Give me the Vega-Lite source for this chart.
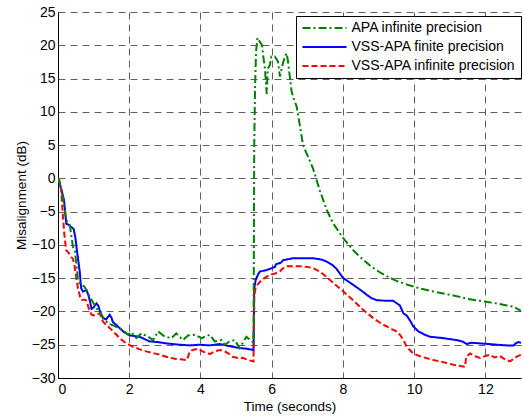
{
  "$schema": "https://vega.github.io/schema/vega-lite/v6.json",
  "width": 463,
  "height": 366,
  "autosize": {"type": "none"},
  "padding": {"left": 58, "top": 12, "right": 2, "bottom": 39},
  "background": "white",
  "config": {
    "view": {"stroke": null},
    "font": "Liberation Sans",
    "axis": {
      "domainColor": "#000",
      "domainWidth": 1,
      "ticks": false,
      "labelColor": "#000",
      "titleColor": "#000",
      "labelFontSize": 14,
      "titleFontSize": 13.5,
      "titleFontWeight": "normal",
      "gridColor": "#444",
      "gridDash": [7, 5],
      "gridOpacity": 0.85,
      "gridWidth": 1
    },
    "legend": {
      "orient": "none",
      "legendX": 238,
      "legendY": 4,
      "strokeColor": "#000",
      "fillColor": "#fff",
      "padding": 5,
      "labelFontSize": 14,
      "labelColor": "#000",
      "labelLimit": 300,
      "symbolType": "M-4,0H4",
      "symbolSize": 121,
      "symbolStrokeWidth": 2,
      "symbolOffset": 16.5,
      "labelOffset": 20,
      "rowPadding": 5
    }
  },
  "data": {"values": [
    {"s":"VSS-APA finite precision","t":0,"v":0},
    {"s":"VSS-APA finite precision","t":0.05,"v":-0.8},
    {"s":"VSS-APA finite precision","t":0.10,"v":-1.8},
    {"s":"VSS-APA finite precision","t":0.17,"v":-3.3},
    {"s":"VSS-APA finite precision","t":0.21,"v":-5.5},
    {"s":"VSS-APA finite precision","t":0.23,"v":-6.8},
    {"s":"VSS-APA finite precision","t":0.30,"v":-7.0},
    {"s":"VSS-APA finite precision","t":0.44,"v":-7.6},
    {"s":"VSS-APA finite precision","t":0.49,"v":-9.0},
    {"s":"VSS-APA finite precision","t":0.53,"v":-10.8},
    {"s":"VSS-APA finite precision","t":0.61,"v":-14.0},
    {"s":"VSS-APA finite precision","t":0.65,"v":-16.5},
    {"s":"VSS-APA finite precision","t":0.70,"v":-17.0},
    {"s":"VSS-APA finite precision","t":0.80,"v":-16.8},
    {"s":"VSS-APA finite precision","t":0.85,"v":-17.5},
    {"s":"VSS-APA finite precision","t":0.89,"v":-18.3},
    {"s":"VSS-APA finite precision","t":0.94,"v":-19.6},
    {"s":"VSS-APA finite precision","t":1.00,"v":-19.4},
    {"s":"VSS-APA finite precision","t":1.08,"v":-18.8},
    {"s":"VSS-APA finite precision","t":1.13,"v":-19.1},
    {"s":"VSS-APA finite precision","t":1.17,"v":-19.8},
    {"s":"VSS-APA finite precision","t":1.26,"v":-21.0},
    {"s":"VSS-APA finite precision","t":1.35,"v":-21.2},
    {"s":"VSS-APA finite precision","t":1.45,"v":-20.5},
    {"s":"VSS-APA finite precision","t":1.50,"v":-20.9},
    {"s":"VSS-APA finite precision","t":1.54,"v":-21.6},
    {"s":"VSS-APA finite precision","t":1.63,"v":-22.0},
    {"s":"VSS-APA finite precision","t":1.73,"v":-22.5},
    {"s":"VSS-APA finite precision","t":1.85,"v":-23.1},
    {"s":"VSS-APA finite precision","t":2.01,"v":-23.6},
    {"s":"VSS-APA finite precision","t":2.15,"v":-23.7},
    {"s":"VSS-APA finite precision","t":2.29,"v":-23.8},
    {"s":"VSS-APA finite precision","t":2.45,"v":-24.2},
    {"s":"VSS-APA finite precision","t":2.57,"v":-24.5},
    {"s":"VSS-APA finite precision","t":2.80,"v":-24.6},
    {"s":"VSS-APA finite precision","t":3.04,"v":-24.8},
    {"s":"VSS-APA finite precision","t":3.42,"v":-25.0},
    {"s":"VSS-APA finite precision","t":3.70,"v":-25.1},
    {"s":"VSS-APA finite precision","t":3.98,"v":-25.0},
    {"s":"VSS-APA finite precision","t":4.26,"v":-25.1},
    {"s":"VSS-APA finite precision","t":4.54,"v":-24.9},
    {"s":"VSS-APA finite precision","t":4.80,"v":-25.2},
    {"s":"VSS-APA finite precision","t":5.10,"v":-25.5},
    {"s":"VSS-APA finite precision","t":5.30,"v":-25.6},
    {"s":"VSS-APA finite precision","t":5.49,"v":-25.8},
    {"s":"VSS-APA finite precision","t":5.51,"v":-16.5},
    {"s":"VSS-APA finite precision","t":5.55,"v":-15.3},
    {"s":"VSS-APA finite precision","t":5.62,"v":-14.4},
    {"s":"VSS-APA finite precision","t":5.67,"v":-14.0},
    {"s":"VSS-APA finite precision","t":5.75,"v":-13.9},
    {"s":"VSS-APA finite precision","t":5.85,"v":-13.8},
    {"s":"VSS-APA finite precision","t":5.95,"v":-13.6},
    {"s":"VSS-APA finite precision","t":6.09,"v":-13.3},
    {"s":"VSS-APA finite precision","t":6.12,"v":-12.9},
    {"s":"VSS-APA finite precision","t":6.18,"v":-12.8},
    {"s":"VSS-APA finite precision","t":6.25,"v":-12.7},
    {"s":"VSS-APA finite precision","t":6.32,"v":-12.3},
    {"s":"VSS-APA finite precision","t":6.42,"v":-12.2},
    {"s":"VSS-APA finite precision","t":6.60,"v":-12.0},
    {"s":"VSS-APA finite precision","t":7.16,"v":-12.0},
    {"s":"VSS-APA finite precision","t":7.40,"v":-12.2},
    {"s":"VSS-APA finite precision","t":7.54,"v":-12.5},
    {"s":"VSS-APA finite precision","t":7.70,"v":-13.0},
    {"s":"VSS-APA finite precision","t":7.82,"v":-13.6},
    {"s":"VSS-APA finite precision","t":8.01,"v":-15.0},
    {"s":"VSS-APA finite precision","t":8.15,"v":-15.5},
    {"s":"VSS-APA finite precision","t":8.29,"v":-16.0},
    {"s":"VSS-APA finite precision","t":8.50,"v":-16.8},
    {"s":"VSS-APA finite precision","t":8.67,"v":-17.5},
    {"s":"VSS-APA finite precision","t":8.80,"v":-18.0},
    {"s":"VSS-APA finite precision","t":8.95,"v":-18.3},
    {"s":"VSS-APA finite precision","t":9.20,"v":-18.4},
    {"s":"VSS-APA finite precision","t":9.41,"v":-18.4},
    {"s":"VSS-APA finite precision","t":9.52,"v":-18.8},
    {"s":"VSS-APA finite precision","t":9.60,"v":-19.1},
    {"s":"VSS-APA finite precision","t":9.70,"v":-20.3},
    {"s":"VSS-APA finite precision","t":9.79,"v":-20.6},
    {"s":"VSS-APA finite precision","t":9.90,"v":-21.5},
    {"s":"VSS-APA finite precision","t":9.97,"v":-22.2},
    {"s":"VSS-APA finite precision","t":10.12,"v":-23.0},
    {"s":"VSS-APA finite precision","t":10.30,"v":-23.5},
    {"s":"VSS-APA finite precision","t":10.44,"v":-23.8},
    {"s":"VSS-APA finite precision","t":10.80,"v":-24.0},
    {"s":"VSS-APA finite precision","t":11.19,"v":-24.3},
    {"s":"VSS-APA finite precision","t":11.35,"v":-24.5},
    {"s":"VSS-APA finite precision","t":11.48,"v":-24.9},
    {"s":"VSS-APA finite precision","t":11.60,"v":-24.7},
    {"s":"VSS-APA finite precision","t":11.85,"v":-24.8},
    {"s":"VSS-APA finite precision","t":12.10,"v":-24.9},
    {"s":"VSS-APA finite precision","t":12.32,"v":-25.0},
    {"s":"VSS-APA finite precision","t":12.60,"v":-25.1},
    {"s":"VSS-APA finite precision","t":12.79,"v":-25.1},
    {"s":"VSS-APA finite precision","t":12.85,"v":-24.8},
    {"s":"VSS-APA finite precision","t":12.92,"v":-24.6},
    {"s":"VSS-APA finite precision","t":13.0,"v":-24.7},

    {"s":"VSS-APA infinite precision","t":0,"v":0},
    {"s":"VSS-APA infinite precision","t":0.04,"v":-0.3},
    {"s":"VSS-APA infinite precision","t":0.09,"v":-1.8},
    {"s":"VSS-APA infinite precision","t":0.14,"v":-5.8},
    {"s":"VSS-APA infinite precision","t":0.18,"v":-8.5},
    {"s":"VSS-APA infinite precision","t":0.23,"v":-10.8},
    {"s":"VSS-APA infinite precision","t":0.30,"v":-11.2},
    {"s":"VSS-APA infinite precision","t":0.37,"v":-11.8},
    {"s":"VSS-APA infinite precision","t":0.42,"v":-12.1},
    {"s":"VSS-APA infinite precision","t":0.47,"v":-13.3},
    {"s":"VSS-APA infinite precision","t":0.51,"v":-14.8},
    {"s":"VSS-APA infinite precision","t":0.56,"v":-16.5},
    {"s":"VSS-APA infinite precision","t":0.62,"v":-17.8},
    {"s":"VSS-APA infinite precision","t":0.65,"v":-18.3},
    {"s":"VSS-APA infinite precision","t":0.75,"v":-18.2},
    {"s":"VSS-APA infinite precision","t":0.80,"v":-18.4},
    {"s":"VSS-APA infinite precision","t":0.88,"v":-19.8},
    {"s":"VSS-APA infinite precision","t":0.94,"v":-20.5},
    {"s":"VSS-APA infinite precision","t":1.00,"v":-20.6},
    {"s":"VSS-APA infinite precision","t":1.08,"v":-20.4},
    {"s":"VSS-APA infinite precision","t":1.17,"v":-20.3},
    {"s":"VSS-APA infinite precision","t":1.26,"v":-21.5},
    {"s":"VSS-APA infinite precision","t":1.35,"v":-22.0},
    {"s":"VSS-APA infinite precision","t":1.45,"v":-22.5},
    {"s":"VSS-APA infinite precision","t":1.55,"v":-23.0},
    {"s":"VSS-APA infinite precision","t":1.64,"v":-23.5},
    {"s":"VSS-APA infinite precision","t":1.75,"v":-24.1},
    {"s":"VSS-APA infinite precision","t":1.92,"v":-24.8},
    {"s":"VSS-APA infinite precision","t":2.10,"v":-25.3},
    {"s":"VSS-APA infinite precision","t":2.30,"v":-25.7},
    {"s":"VSS-APA infinite precision","t":2.48,"v":-26.0},
    {"s":"VSS-APA infinite precision","t":2.70,"v":-26.3},
    {"s":"VSS-APA infinite precision","t":2.86,"v":-26.5},
    {"s":"VSS-APA infinite precision","t":3.10,"v":-26.9},
    {"s":"VSS-APA infinite precision","t":3.28,"v":-27.1},
    {"s":"VSS-APA infinite precision","t":3.45,"v":-27.2},
    {"s":"VSS-APA infinite precision","t":3.62,"v":-27.3},
    {"s":"VSS-APA infinite precision","t":3.70,"v":-26.0},
    {"s":"VSS-APA infinite precision","t":3.78,"v":-25.8},
    {"s":"VSS-APA infinite precision","t":3.93,"v":-25.6},
    {"s":"VSS-APA infinite precision","t":4.10,"v":-26.1},
    {"s":"VSS-APA infinite precision","t":4.26,"v":-26.4},
    {"s":"VSS-APA infinite precision","t":4.40,"v":-26.0},
    {"s":"VSS-APA infinite precision","t":4.54,"v":-25.8},
    {"s":"VSS-APA infinite precision","t":4.65,"v":-25.9},
    {"s":"VSS-APA infinite precision","t":4.78,"v":-26.3},
    {"s":"VSS-APA infinite precision","t":4.90,"v":-26.8},
    {"s":"VSS-APA infinite precision","t":5.06,"v":-27.0},
    {"s":"VSS-APA infinite precision","t":5.20,"v":-27.0},
    {"s":"VSS-APA infinite precision","t":5.34,"v":-27.3},
    {"s":"VSS-APA infinite precision","t":5.49,"v":-27.5},
    {"s":"VSS-APA infinite precision","t":5.51,"v":-17.8},
    {"s":"VSS-APA infinite precision","t":5.55,"v":-16.3},
    {"s":"VSS-APA infinite precision","t":5.71,"v":-15.3},
    {"s":"VSS-APA infinite precision","t":5.85,"v":-14.8},
    {"s":"VSS-APA infinite precision","t":5.95,"v":-14.5},
    {"s":"VSS-APA infinite precision","t":6.10,"v":-14.3},
    {"s":"VSS-APA infinite precision","t":6.23,"v":-14.0},
    {"s":"VSS-APA infinite precision","t":6.30,"v":-13.6},
    {"s":"VSS-APA infinite precision","t":6.42,"v":-13.2},
    {"s":"VSS-APA infinite precision","t":6.79,"v":-13.2},
    {"s":"VSS-APA infinite precision","t":7.00,"v":-13.3},
    {"s":"VSS-APA infinite precision","t":7.16,"v":-13.5},
    {"s":"VSS-APA infinite precision","t":7.35,"v":-14.0},
    {"s":"VSS-APA infinite precision","t":7.54,"v":-14.8},
    {"s":"VSS-APA infinite precision","t":7.75,"v":-15.8},
    {"s":"VSS-APA infinite precision","t":8.01,"v":-17.0},
    {"s":"VSS-APA infinite precision","t":8.20,"v":-17.9},
    {"s":"VSS-APA infinite precision","t":8.38,"v":-18.8},
    {"s":"VSS-APA infinite precision","t":8.60,"v":-19.9},
    {"s":"VSS-APA infinite precision","t":8.85,"v":-21.0},
    {"s":"VSS-APA infinite precision","t":9.10,"v":-21.9},
    {"s":"VSS-APA infinite precision","t":9.32,"v":-22.5},
    {"s":"VSS-APA infinite precision","t":9.50,"v":-23.0},
    {"s":"VSS-APA infinite precision","t":9.60,"v":-23.5},
    {"s":"VSS-APA infinite precision","t":9.70,"v":-24.3},
    {"s":"VSS-APA infinite precision","t":9.79,"v":-25.3},
    {"s":"VSS-APA infinite precision","t":9.97,"v":-26.3},
    {"s":"VSS-APA infinite precision","t":10.20,"v":-26.8},
    {"s":"VSS-APA infinite precision","t":10.54,"v":-27.3},
    {"s":"VSS-APA infinite precision","t":10.80,"v":-27.6},
    {"s":"VSS-APA infinite precision","t":11.10,"v":-28.0},
    {"s":"VSS-APA infinite precision","t":11.30,"v":-28.2},
    {"s":"VSS-APA infinite precision","t":11.43,"v":-28.3},
    {"s":"VSS-APA infinite precision","t":11.46,"v":-26.8},
    {"s":"VSS-APA infinite precision","t":11.57,"v":-26.3},
    {"s":"VSS-APA infinite precision","t":11.70,"v":-26.7},
    {"s":"VSS-APA infinite precision","t":11.85,"v":-27.0},
    {"s":"VSS-APA infinite precision","t":12.00,"v":-26.7},
    {"s":"VSS-APA infinite precision","t":12.13,"v":-26.5},
    {"s":"VSS-APA infinite precision","t":12.25,"v":-26.9},
    {"s":"VSS-APA infinite precision","t":12.41,"v":-26.7},
    {"s":"VSS-APA infinite precision","t":12.55,"v":-27.2},
    {"s":"VSS-APA infinite precision","t":12.69,"v":-27.5},
    {"s":"VSS-APA infinite precision","t":12.80,"v":-27.1},
    {"s":"VSS-APA infinite precision","t":12.88,"v":-26.8},
    {"s":"VSS-APA infinite precision","t":13.0,"v":-26.5},

    {"s":"APA infinite precision","t":0,"v":0},
    {"s":"APA infinite precision","t":0.05,"v":-0.8},
    {"s":"APA infinite precision","t":0.10,"v":-1.8},
    {"s":"APA infinite precision","t":0.17,"v":-4.0},
    {"s":"APA infinite precision","t":0.23,"v":-6.3},
    {"s":"APA infinite precision","t":0.33,"v":-7.0},
    {"s":"APA infinite precision","t":0.42,"v":-10.3},
    {"s":"APA infinite precision","t":0.47,"v":-10.8},
    {"s":"APA infinite precision","t":0.52,"v":-13.0},
    {"s":"APA infinite precision","t":0.56,"v":-15.3},
    {"s":"APA infinite precision","t":0.61,"v":-15.8},
    {"s":"APA infinite precision","t":0.75,"v":-16.3},
    {"s":"APA infinite precision","t":0.89,"v":-17.8},
    {"s":"APA infinite precision","t":1.08,"v":-19.5},
    {"s":"APA infinite precision","t":1.26,"v":-20.8},
    {"s":"APA infinite precision","t":1.40,"v":-21.8},
    {"s":"APA infinite precision","t":1.59,"v":-22.2},
    {"s":"APA infinite precision","t":1.82,"v":-22.8},
    {"s":"APA infinite precision","t":1.97,"v":-23.5},
    {"s":"APA infinite precision","t":2.06,"v":-23.1},
    {"s":"APA infinite precision","t":2.20,"v":-24.0},
    {"s":"APA infinite precision","t":2.34,"v":-23.3},
    {"s":"APA infinite precision","t":2.53,"v":-23.8},
    {"s":"APA infinite precision","t":2.67,"v":-24.3},
    {"s":"APA infinite precision","t":2.81,"v":-23.0},
    {"s":"APA infinite precision","t":3.00,"v":-23.8},
    {"s":"APA infinite precision","t":3.19,"v":-24.0},
    {"s":"APA infinite precision","t":3.32,"v":-23.3},
    {"s":"APA infinite precision","t":3.51,"v":-24.3},
    {"s":"APA infinite precision","t":3.65,"v":-23.6},
    {"s":"APA infinite precision","t":3.84,"v":-23.5},
    {"s":"APA infinite precision","t":4.03,"v":-24.0},
    {"s":"APA infinite precision","t":4.26,"v":-23.5},
    {"s":"APA infinite precision","t":4.40,"v":-24.5},
    {"s":"APA infinite precision","t":4.59,"v":-24.3},
    {"s":"APA infinite precision","t":4.68,"v":-25.0},
    {"s":"APA infinite precision","t":4.82,"v":-24.5},
    {"s":"APA infinite precision","t":4.96,"v":-24.3},
    {"s":"APA infinite precision","t":5.10,"v":-25.5},
    {"s":"APA infinite precision","t":5.29,"v":-23.8},
    {"s":"APA infinite precision","t":5.43,"v":-24.5},
    {"s":"APA infinite precision","t":5.49,"v":-24.6},
    {"s":"APA infinite precision","t":5.51,"v":5.0},
    {"s":"APA infinite precision","t":5.53,"v":13.0},
    {"s":"APA infinite precision","t":5.56,"v":19.0},
    {"s":"APA infinite precision","t":5.60,"v":21.1},
    {"s":"APA infinite precision","t":5.67,"v":20.5},
    {"s":"APA infinite precision","t":5.73,"v":20.0},
    {"s":"APA infinite precision","t":5.76,"v":18.5},
    {"s":"APA infinite precision","t":5.81,"v":16.5},
    {"s":"APA infinite precision","t":5.86,"v":12.7},
    {"s":"APA infinite precision","t":5.89,"v":16.5},
    {"s":"APA infinite precision","t":5.95,"v":17.0},
    {"s":"APA infinite precision","t":5.99,"v":18.3},
    {"s":"APA infinite precision","t":6.09,"v":18.3},
    {"s":"APA infinite precision","t":6.18,"v":17.5},
    {"s":"APA infinite precision","t":6.23,"v":15.3},
    {"s":"APA infinite precision","t":6.29,"v":16.8},
    {"s":"APA infinite precision","t":6.37,"v":18.3},
    {"s":"APA infinite precision","t":6.42,"v":18.8},
    {"s":"APA infinite precision","t":6.46,"v":17.5},
    {"s":"APA infinite precision","t":6.56,"v":13.0},
    {"s":"APA infinite precision","t":6.62,"v":12.0},
    {"s":"APA infinite precision","t":6.70,"v":10.8},
    {"s":"APA infinite precision","t":6.79,"v":8.0},
    {"s":"APA infinite precision","t":6.88,"v":5.0},
    {"s":"APA infinite precision","t":7.00,"v":3.5},
    {"s":"APA infinite precision","t":7.16,"v":1.5},
    {"s":"APA infinite precision","t":7.35,"v":-1.8},
    {"s":"APA infinite precision","t":7.54,"v":-4.7},
    {"s":"APA infinite precision","t":7.73,"v":-6.8},
    {"s":"APA infinite precision","t":8.01,"v":-9.0},
    {"s":"APA infinite precision","t":8.29,"v":-10.8},
    {"s":"APA infinite precision","t":8.48,"v":-11.8},
    {"s":"APA infinite precision","t":8.76,"v":-13.1},
    {"s":"APA infinite precision","t":9.00,"v":-14.0},
    {"s":"APA infinite precision","t":9.23,"v":-14.7},
    {"s":"APA infinite precision","t":9.50,"v":-15.4},
    {"s":"APA infinite precision","t":9.88,"v":-16.1},
    {"s":"APA infinite precision","t":10.20,"v":-16.6},
    {"s":"APA infinite precision","t":10.54,"v":-17.0},
    {"s":"APA infinite precision","t":10.91,"v":-17.4},
    {"s":"APA infinite precision","t":11.19,"v":-17.7},
    {"s":"APA infinite precision","t":11.50,"v":-18.1},
    {"s":"APA infinite precision","t":11.85,"v":-18.4},
    {"s":"APA infinite precision","t":12.10,"v":-18.6},
    {"s":"APA infinite precision","t":12.32,"v":-18.8},
    {"s":"APA infinite precision","t":12.60,"v":-19.1},
    {"s":"APA infinite precision","t":12.79,"v":-19.3},
    {"s":"APA infinite precision","t":12.90,"v":-19.6},
    {"s":"APA infinite precision","t":13.0,"v":-19.9}
  ]},
  "mark": {"type": "line", "strokeWidth": 2, "clip": true},
  "encoding": {
    "x": {
      "field": "t", "type": "quantitative",
      "scale": {"domain": [0, 13], "nice": false, "zero": false},
      "axis": {"values": [0, 2, 4, 6, 8, 10, 12], "title": "Time (seconds)", "labelPadding": 4, "titlePadding": 3}
    },
    "y": {
      "field": "v", "type": "quantitative",
      "scale": {"domain": [-30, 25], "nice": false, "zero": false},
      "axis": {"values": [-30, -25, -20, -15, -10, -5, 0, 5, 10, 15, 20, 25], "title": "Misalignment (dB)", "labelPadding": 3, "titlePadding": 3}
    },
    "color": {
      "field": "s", "type": "nominal",
      "scale": {"domain": ["APA infinite precision", "VSS-APA finite precision", "VSS-APA infinite precision"], "range": ["#008000", "#0000ff", "#ff0000"]},
      "legend": {"title": null}
    },
    "strokeDash": {
      "field": "s", "type": "nominal",
      "scale": {"domain": ["APA infinite precision", "VSS-APA finite precision", "VSS-APA infinite precision"], "range": [[8, 3, 2, 3], [1, 0], [6, 3]]},
      "legend": {"title": null}
    }
  }
}
